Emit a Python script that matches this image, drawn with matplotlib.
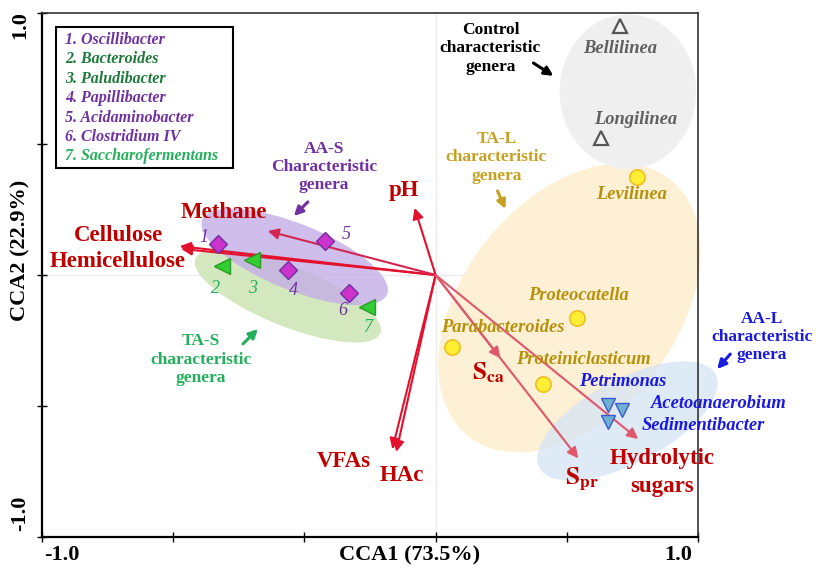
import matplotlib
matplotlib.use('Agg')
import matplotlib.pyplot as plt
from matplotlib.patches import Ellipse

plt.rcParams['font.family'] = 'Liberation Serif'
plt.rcParams['mathtext.fontset'] = 'stix'

# genus scores (CCA1, CCA2)
aas_num = ['1', '4', '5', '6']
aas_x = [-0.83, -0.563, -0.422, -0.331]
aas_y = [0.118, 0.019, 0.130, -0.069]

tas_num = ['2', '3', '7']
tas_x = [-0.814, -0.70, -0.263]
tas_y = [0.034, 0.057, -0.122]

tal_names = ['Levilinea', 'Proteocatella', 'Parabacteroides', 'Proteiniclasticum']
tal_x = [0.769, 0.540, 0.061, 0.411]
tal_y = [0.374, -0.164, -0.275, -0.416]

ctrl_names = ['Bellilinea', 'Longilinea']
ctrl_x = [0.704, 0.632]
ctrl_y = [0.950, 0.523]

aal_names = ['Petrimonas', 'Acetoanaerobium', 'Sedimentibacter']
aal_x = [0.658, 0.712, 0.658]
aal_y = [-0.496, -0.515, -0.561]

# environmental factor arrows
env_names = ['Cellulose', 'Hemicellulose', 'Methane', 'pH', 'VFAs', 'HAc',
             'Sca', 'Spr', 'Hydrolytic sugars']
env_x = [-0.975, -0.97, -0.64, -0.08, -0.165, -0.15, 0.247, 0.544, 0.772]
env_y = [0.11, 0.10, 0.168, 0.256, -0.665, -0.675, -0.317, -0.70, -0.626]

legend_lines = ['1. Oscillibacter', '2. Bacteroides', '3. Paludibacter',
                '4. Papillibacter', '5. Acidaminobacter', '6. Clostridium IV',
                '7. Saccharofermentans']

PURPLE = '#7030a0'
DKGREEN = '#1e7a3a'
GREEN = '#22b05a'
GOLD = '#b8900a'
BLUE = '#1a1ae0'
RED = '#c00000'

fig = plt.figure(figsize=(8.16, 5.72), dpi=100)
ax = fig.add_axes([42/816, 1-537/572, 656/816, 524/572])
ax.set_xlim(-1.5, 1.0)
ax.set_ylim(-1.0, 1.0)

ax.axhline(0, color='#ececec', lw=1, zorder=0)
ax.axvline(0, color='#ececec', lw=1, zorder=0)

# group ellipses
ax.add_patch(Ellipse((0.51, -0.126), 1.246, 0.815, angle=52, fc='#fdf0d2', ec='none',
                     alpha=0.95, zorder=1, clip_on=False))
ax.add_patch(Ellipse((0.731, -0.557), 0.76, 0.32, angle=28, fc='#d5e3f5', ec='none',
                     alpha=0.75, zorder=1.5, clip_on=False))
ax.add_patch(Ellipse((0.733, 0.70), 0.52, 0.59, fc='#efefef', ec='none', zorder=1))
ax.add_patch(Ellipse((-0.563, -0.080), 0.76, 0.229, angle=-22, fc='#cfe6b8', ec='none',
                     alpha=0.9, zorder=1))
ax.add_patch(Ellipse((-0.537, 0.069), 0.76, 0.252, angle=-22, fc='#c4aee6', ec='none',
                     alpha=0.8, zorder=1.2))

# arrows
arrow_cols = ['#e3102e', '#e3102e', '#d42552', '#e3102e', '#e3102e', '#e3102e',
              '#e0576b', '#e0576b', '#e0576b']
for ex, ey, c in zip(env_x, env_y, arrow_cols):
    ax.annotate('', xy=(ex, ey), xytext=(0, 0),
                arrowprops=dict(arrowstyle='-|>', color=c, lw=1.5, mutation_scale=16,
                                shrinkA=0, shrinkB=0), zorder=3)

lab = dict(color=RED, fontsize=16.5, fontweight='bold', ha='center', va='center', zorder=5)
ax.text(-1.21, 0.149, 'Cellulose', **lab)
ax.text(-1.21, 0.050, 'Hemicellulose', **lab)
ax.text(-0.807, 0.237, 'Methane', **lab)
ax.text(-0.122, 0.321, 'pH', **lab)
ax.text(-0.350, -0.710, 'VFAs', **lab)
ax.text(-0.129, -0.767, 'HAc', **lab)
ax.text(0.202, -0.374, r'$\mathbf{S}_{\mathbf{ca}}$', color=RED, fontsize=18,
        ha='center', va='center', zorder=5)
ax.text(0.559, -0.779, r'$\mathbf{S}_{\mathbf{pr}}$', color=RED, fontsize=18,
        ha='center', va='center', zorder=5)
ax.text(0.864, -0.702, 'Hydrolytic', **lab)
ax.text(0.864, -0.809, 'sugars', **lab)

# markers
ax.plot(aas_x, aas_y, 'D', ms=9.5, mfc='#cc33cc', mec=PURPLE, mew=1, ls='none', zorder=4)
ax.plot(tas_x, tas_y, '<', ms=11, mfc='#33cc33', mec='#2a9a2a', mew=1, ls='none', zorder=4)
ax.plot(tal_x, tal_y, 'o', ms=11, mfc='#ffee33', mec='#f0c020', mew=1.2, ls='none', zorder=4)
ax.plot(ctrl_x, ctrl_y, '^', ms=9.5, mfc='#f4f4f4', mec='#555555', mew=1.6, ls='none', zorder=4)
ax.plot(aal_x, aal_y, 'v', ms=10, mfc='#6fb0d0', mec='#3a5ad0', mew=1, ls='none', zorder=4)

# number labels
num_pos = {'1': (-0.883, 0.145), '2': (-0.837, -0.050), '3': (-0.696, -0.050),
           '4': (-0.540, -0.061), '5': (-0.342, 0.156), '6': (-0.354, -0.137),
           '7': (-0.255, -0.202)}
for n in aas_num:
    ax.text(*num_pos[n], n, color=PURPLE, fontsize=13, style='italic',
            ha='center', va='center', zorder=5)
for n in tas_num:
    ax.text(*num_pos[n], n, color=GREEN, fontsize=13, style='italic',
            ha='center', va='center', zorder=5)

# genus names
gen = dict(fontsize=13.3, fontweight='bold', style='italic', ha='center', va='center', zorder=5)
for name, pos in zip(ctrl_names, [(0.704, 0.866), (0.761, 0.592)]):
    ax.text(*pos, name, color='#606060', **gen)
for name, pos in zip(tal_names, [(0.746, 0.309), (0.544, -0.080), (0.255, -0.202),
                                 (0.563, -0.324)]):
    ax.text(*pos, name, color=GOLD, **gen)
for name, pos in zip(aal_names, [(0.712, -0.408), (1.081, -0.489), (1.020, -0.576)]):
    ax.text(*pos, name, color=BLUE, clip_on=False, **gen)

# group annotations
grp = dict(fontsize=12.5, fontweight='bold', ha='center', va='center',
           linespacing=1.2, zorder=5)
groups = [('Control\ncharacteristic\ngenera', 'black', (0.209, 0.866),
           (0.373, 0.809), (0.449, 0.760)),
          ('TA-L\ncharacteristic\ngenera', '#c8a020', (0.232, 0.450),
           (0.236, 0.321), (0.266, 0.252)),
          ('AA-S\nCharacteristic\ngenera', PURPLE, (-0.426, 0.412),
           (-0.487, 0.279), (-0.540, 0.225)),
          ('TA-S\ncharacteristic\ngenera', GREEN, (-0.894, -0.324),
           (-0.734, -0.263), (-0.677, -0.206)),
          ('AA-L\ncharacteristic\ngenera', BLUE, (1.244, -0.237),
           (1.123, -0.302), (1.073, -0.359))]
for txt, c, pos, a0, a1 in groups:
    ax.text(*pos, txt, color=c, clip_on=False, **grp)
    ax.annotate('', xy=a1, xytext=a0,
                arrowprops=dict(arrowstyle='-|>', color=c, lw=2.2, mutation_scale=13,
                                shrinkA=0, shrinkB=0), annotation_clip=False, zorder=5)

# legend box
ax.add_patch(plt.Rectangle((56/816, 1-168/572), 177/816, 141/572, transform=fig.transFigure,
                           fc='white', ec='black', lw=1.5, zorder=6, clip_on=False))
leg_cols = [PURPLE, DKGREEN, DKGREEN, PURPLE, PURPLE, PURPLE, GREEN]
for i, (t, c) in enumerate(zip(legend_lines, leg_cols)):
    fig.text(65/816, 1-(40 + i*19.4)/572, t, color=c, fontsize=11.5, fontweight='bold',
             style='italic', ha='left', va='center', zorder=7)

# axes styling
for s in ['left', 'bottom']:
    ax.spines[s].set_linewidth(1.6)
for s in ['top', 'right']:
    ax.spines[s].set_linewidth(1.2)
    ax.spines[s].set_color('#333333')
ax.set_xticks([-1.5, -1.0, -0.5, 0, 0.5, 1.0])
ax.set_yticks([-1.0, -0.5, 0, 0.5, 1.0])
ax.tick_params(direction='inout', length=7, width=1, labelbottom=False, labelleft=False)

ft = dict(fontsize=16, fontweight='bold', va='center', ha='center')
fig.text(62/816, 1-555/572, '-1.0', **ft)
fig.text(678/816, 1-555/572, '1.0', **ft)
fig.text(410/816, 1-555/572, 'CCA1 (73.5%)', **ft)
fig.text(20/816, 1-25/572, '1.0', rotation=90, **ft)
fig.text(20/816, 1-513/572, '-1.0', rotation=90, **ft)
fig.text(20/816, 1-250/572, 'CCA2 (22.9%)', rotation=90, **ft)

fig.savefig('out.png', dpi=100)
